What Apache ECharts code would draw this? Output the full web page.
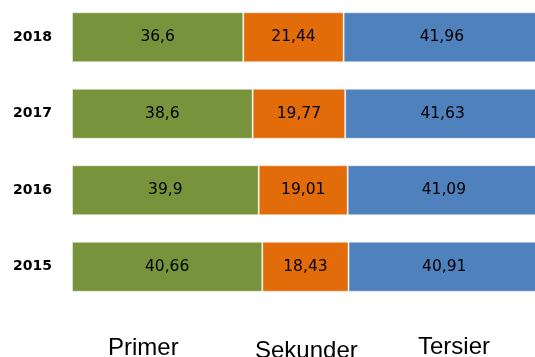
<!DOCTYPE html>
<html>
<head>
<meta charset="utf-8">
<script src="https://cdn.jsdelivr.net/npm/echarts@6/dist/echarts.min.js"></script>
<style>
  html, body { margin: 0; padding: 0; background: #fff; }
  #chart { width: 535px; height: 357px; }
</style>
</head>
<body>
<div id="chart"></div>
<script>
// Sector shares per year (percent)
const years = ['2015', '2016', '2017', '2018'];
const sectorNames = ['Primer', 'Sekunder', 'Tersier'];
const primer = [40.66, 39.9, 38.6, 36.6];
const sekunder = [18.43, 19.01, 19.77, 21.44];
const tersier = [40.91, 41.09, 41.63, 41.96];

const colors = ['#77933C', '#E36C0A', '#4F81BD'];
const seriesValues = [primer, sekunder, tersier];

// Legend names drawn as plain text below the bars (vertical middle of each)
const legendPos = [
  { x: 108, y: 348 },
  { x: 255, y: 351.5 },
  { x: 418, y: 347 }
];

const chart = echarts.init(document.getElementById('chart'));

chart.setOption({
  animation: false,
  grid: { left: 72, width: 468, top: -1, height: 306, outerBoundsMode: 'none' },
  xAxis: {
    type: 'value',
    min: 0,
    max: 100,
    show: false
  },
  yAxis: {
    type: 'category',
    data: years,
    axisLine: { show: false },
    axisTick: { show: false },
    splitLine: { show: false },
    axisLabel: {
      margin: 20,
      color: '#000',
      fontFamily: 'DejaVu Sans',
      fontWeight: 'bold',
      fontSize: 14
    }
  },
  series: sectorNames.map((name, i) => ({
    name: name,
    type: 'bar',
    stack: 'total',
    barWidth: 50,
    data: seriesValues[i],
    itemStyle: {
      color: colors[i],
      borderColor: 'rgba(255,255,255,0.45)',
      borderWidth: 1
    },
    label: {
      show: true,
      position: 'inside',
      color: '#000',
      fontFamily: 'DejaVu Sans',
      fontSize: 15.5,
      formatter: p => String(p.value).replace('.', ',')
    }
  })),
  graphic: sectorNames.map((name, i) => ({
    type: 'text',
    x: legendPos[i].x,
    y: legendPos[i].y,
    style: {
      text: name,
      fill: '#000',
      font: '24px "Liberation Sans", Arial, sans-serif',
      verticalAlign: 'middle'
    }
  }))
});
</script>
</body>
</html>
